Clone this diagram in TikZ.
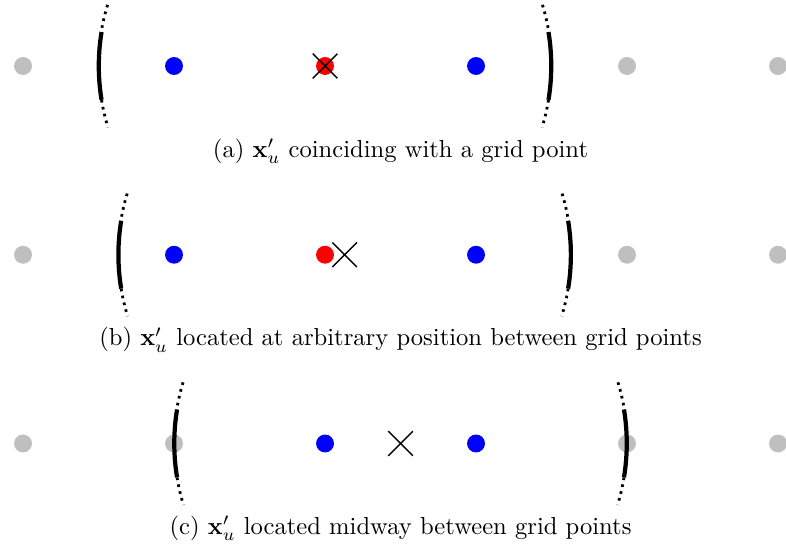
\documentclass[tikz,border=0pt]{standalone}
\usepackage{amsmath}
\usetikzlibrary{positioning,shapes.misc}

\begin{document}
\begin{tikzpicture}[x=0.755cm,y=0.755cm,
    grid/.style={circle,fill=black!25,inner sep=0pt,minimum size=5.1pt},
    cand/.style={circle,fill=blue,inner sep=0pt,minimum size=5.1pt},
    near/.style={circle,fill=red,inner sep=0pt,minimum size=5.1pt},
    xmark/.style={cross out,draw,line width=0.4pt,inner sep=0pt,minimum size=6.6pt},
    caption/.style={scale=0.7},
    solidpar/.style={line width=1.2pt},
    dotpar/.style={line width=0.8pt,dash pattern=on 0.75pt off 1.25pt}]
\useasboundingbox (-0.305,0.874) rectangle (10.106,-6.344);
\node[grid] (a0) at (0,0) {};
\node[cand] (a2) at (2,0) {};
\node[near] (a4) at (4,0) {};
\node[cand] (a6) at (6,0) {};
\node[grid] (a8) at (8,0) {};
\node[grid] (a10) at (10,0) {};
\node[xmark] (ax) at (4,0) {};
\draw[dotpar] (1,0) ++(0.12,0.81) arc[start angle=163,end angle=170.7,radius=2.78];
\draw[solidpar] (1,0) ++(0.04,0.45) arc[start angle=170.7,end angle=189.3,radius=2.78];
\draw[dotpar] (1,0) ++(0.04,-0.45) arc[start angle=189.3,end angle=197,radius=2.78];
\draw[dotpar] (7,0) ++(-0.12,0.81) arc[start angle=17,end angle=9.3,radius=2.78];
\draw[solidpar] (7,0) ++(-0.04,0.45) arc[start angle=9.3,end angle=-9.3,radius=2.78];
\draw[dotpar] (7,0) ++(-0.04,-0.45) arc[start angle=-9.3,end angle=-17,radius=2.78];
\node[caption] (capa) at (5,-1.126) {(a) $\mathbf{x}'_u$ coinciding with a grid point};
\node[grid] (b0) at (0,-2.5) {};
\node[cand] (b2) at (2,-2.5) {};
\node[near] (b4) at (4,-2.5) {};
\node[cand] (b6) at (6,-2.5) {};
\node[grid] (b8) at (8,-2.5) {};
\node[grid] (b10) at (10,-2.5) {};
\node[xmark] (bx) at (4.26,-2.5) {};
\draw[dotpar] (1.26,-2.5) ++(0.12,0.81) arc[start angle=163,end angle=170.7,radius=2.78];
\draw[solidpar] (1.26,-2.5) ++(0.04,0.45) arc[start angle=170.7,end angle=189.3,radius=2.78];
\draw[dotpar] (1.26,-2.5) ++(0.04,-0.45) arc[start angle=189.3,end angle=197,radius=2.78];
\draw[dotpar] (7.26,-2.5) ++(-0.12,0.81) arc[start angle=17,end angle=9.3,radius=2.78];
\draw[solidpar] (7.26,-2.5) ++(-0.04,0.45) arc[start angle=9.3,end angle=-9.3,radius=2.78];
\draw[dotpar] (7.26,-2.5) ++(-0.04,-0.45) arc[start angle=-9.3,end angle=-17,radius=2.78];
\node[caption] (capb) at (5,-3.626) {(b) $\mathbf{x}'_u$ located at arbitrary position between grid points};
\node[grid] (c0) at (0,-5) {};
\node[grid] (c2) at (2,-5) {};
\node[cand] (c4) at (4,-5) {};
\node[cand] (c6) at (6,-5) {};
\node[grid] (c8) at (8,-5) {};
\node[grid] (c10) at (10,-5) {};
\node[xmark] (cx) at (5,-5) {};
\draw[dotpar] (2,-5) ++(0.12,0.81) arc[start angle=163,end angle=170.7,radius=2.78];
\draw[solidpar] (2,-5) ++(0.04,0.45) arc[start angle=170.7,end angle=189.3,radius=2.78];
\draw[dotpar] (2,-5) ++(0.04,-0.45) arc[start angle=189.3,end angle=197,radius=2.78];
\draw[dotpar] (8,-5) ++(-0.12,0.81) arc[start angle=17,end angle=9.3,radius=2.78];
\draw[solidpar] (8,-5) ++(-0.04,0.45) arc[start angle=9.3,end angle=-9.3,radius=2.78];
\draw[dotpar] (8,-5) ++(-0.04,-0.45) arc[start angle=-9.3,end angle=-17,radius=2.78];
\node[caption] (capc) at (5,-6.126) {(c) $\mathbf{x}'_u$ located midway between grid points};
\end{tikzpicture}
\end{document}
